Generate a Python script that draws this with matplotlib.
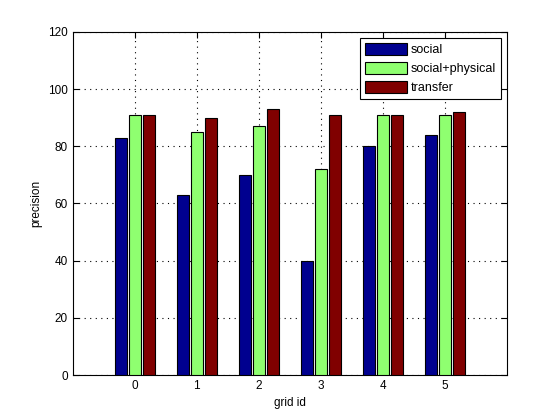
import numpy as np
import matplotlib
matplotlib.use("Agg")
import matplotlib.pyplot as plt

grid_ids = [0, 1, 2, 3, 4, 5]
social = [83, 63, 70, 40, 80, 84]
social_physical = [91, 85, 87, 72, 91, 91]
transfer = [91, 90, 93, 91, 91, 92]

series = [
    ("social", social, "#00008f"),
    ("social+physical", social_physical, "#8fff70"),
    ("transfer", transfer, "#800000"),
]

plt.rcParams["font.family"] = ["Liberation Sans", "DejaVu Sans"]
plt.rcParams["font.size"] = 8.5

fig = plt.figure(figsize=(5.6, 4.2), dpi=100)
ax = fig.add_axes([0.13, 0.107, 0.775, 0.817])

x = np.array(grid_ids)
step = 0.226
width = 0.185
for i, (name, vals, col) in enumerate(series):
    ax.bar(x + (i - 1) * step, vals, width=width, color=col,
           edgecolor="black", linewidth=0.8, label=name, zorder=3)

ax.set_xlim(-1, 6)
ax.set_ylim(0, 120)
ax.set_xticks(grid_ids)
ax.set_yticks(range(0, 121, 20))
ax.grid(True, linestyle=(0, (1, 4)), color="black", linewidth=0.8, zorder=0)
ax.tick_params(direction="in", top=True, right=True, length=4, width=0.8)
for s in ax.spines.values():
    s.set_linewidth(0.8)
ax.set_xlabel("grid id")
ax.set_ylabel("precision")

leg = ax.legend(loc="upper right", fancybox=False, edgecolor="black",
                framealpha=1, handlelength=3.3, handleheight=1.1,
                borderaxespad=0.5, labelspacing=0.45, handletextpad=0.3,
                fontsize=9, borderpad=0.4)
leg.get_frame().set_linewidth(0.8)

fig.savefig("out.png", dpi=100)
